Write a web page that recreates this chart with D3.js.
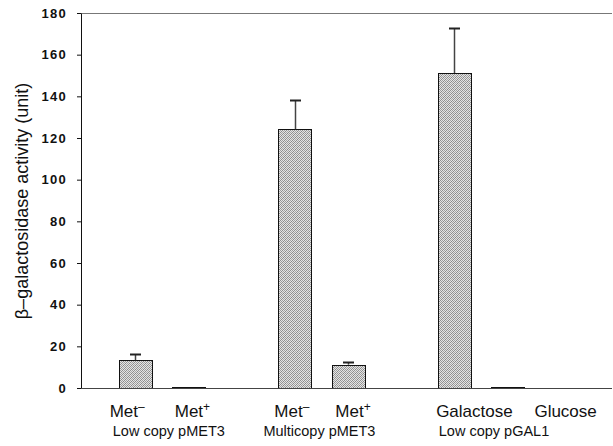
<!DOCTYPE html>
<html>
<head>
<meta charset="utf-8">
<script src="https://cdnjs.cloudflare.com/ajax/libs/d3/7.8.5/d3.min.js"></script>
<style>
  body { margin: 0; background: #fff; }
  text { font-family: "Liberation Sans", Arial, sans-serif; fill: #111; }
</style>
</head>
<body>
<div id="chart"></div>
<script>
// data
var slots = ["e0", "b0", "b1", "e1", "b2", "b3", "e2", "b4", "b5", "e3", "e4"];
var barSlots = ["b0", "b1", "b2", "b3", "b4", "b5"];
var conditions = ["Met", "Met", "Met", "Met", "Galactose", "Glucose"];
var conditionSup = ["-", "+", "-", "+", "", ""];
var means = [13.3, 0.6, 124.2, 11.2, 151.2, 0.3];
var errors = [3.2, 0, 14.0, 1.5, 21.4, 0];
var groups = ["Low copy pMET3", "Multicopy pMET3", "Low copy pGAL1"];
var groupBars = [[0, 1], [2, 3], [4, 5]];
var yTicks = [0, 20, 40, 60, 80, 100, 120, 140, 160, 180];

// label nudges (layout only)
var labelDx = [-8, 4, -3, 5, 20, 58];
var groupDx = [7, -2, 13];

var width = 613, height = 446;
var mLeft = 81, mRight = 612, mTop = 13, mBottom = 388;

var svg = d3.select("#chart").append("svg")
    .attr("width", width)
    .attr("height", height);

// dithered grey fill like the scanned bars
var defs = svg.append("defs");
var pat = defs.append("pattern")
    .attr("id", "stipple")
    .attr("width", 4)
    .attr("height", 4)
    .attr("patternUnits", "userSpaceOnUse");
pat.append("rect").attr("width", 4).attr("height", 4).attr("fill", "#e4e4e4");
[[0, 0, "#8e8e8e"], [2, 0, "#a4a4a4"], [1, 1, "#9a9a9a"], [3, 1, "#888"],
 [0, 2, "#a0a0a0"], [2, 2, "#909090"], [1, 3, "#8a8a8a"], [3, 3, "#a8a8a8"]]
    .forEach(function (p) {
        pat.append("rect").attr("x", p[0]).attr("y", p[1])
            .attr("width", 1).attr("height", 1).attr("fill", p[2]);
    });

var x = d3.scalePoint()
    .domain(slots)
    .range([82, 614]);

var y = d3.scaleLinear()
    .domain([0, 180])
    .range([mBottom, mTop]);

var barW = x.step() * 0.62;

// top frame line
svg.append("line")
    .attr("x1", mLeft).attr("x2", mRight)
    .attr("y1", mTop + 0.5).attr("y2", mTop + 0.5)
    .attr("stroke", "#777")
    .attr("stroke-width", 1);

// bars
var bars = svg.selectAll("g.bar")
    .data(means)
    .enter().append("g")
    .attr("class", "bar");

bars.append("rect")
    .attr("x", function (d, i) { return Math.round(x(barSlots[i]) - barW / 2) + 0.5; })
    .attr("y", function (d) { return Math.round(y(d)) + 0.5; })
    .attr("width", Math.round(barW))
    .attr("height", function (d) { return Math.max(0, Math.round(y(0)) - Math.round(y(d))); })
    .attr("fill", "url(#stipple)")
    .attr("stroke", "#111")
    .attr("stroke-width", 1);

// error bars
bars.each(function (d, i) {
    if (errors[i] <= 0) return;
    var g = d3.select(this);
    var cx = Math.round(x(barSlots[i])) + 0.5;
    var capY = Math.round(y(d + errors[i])) + 0.5;
    g.append("line")
        .attr("x1", cx).attr("x2", cx)
        .attr("y1", y(d)).attr("y2", capY)
        .attr("stroke", "#444").attr("stroke-width", 1.5);
    g.append("line")
        .attr("x1", cx - 5.5).attr("x2", cx + 5.5)
        .attr("y1", capY).attr("y2", capY)
        .attr("stroke", "#222").attr("stroke-width", 2);
});

// y axis
var yAxis = svg.append("g")
    .attr("transform", "translate(" + mLeft + ",0)")
    .call(d3.axisLeft(y).tickValues(yTicks).tickSize(4).tickPadding(10).tickSizeOuter(0));
yAxis.select(".domain").attr("stroke", "#111");
yAxis.selectAll(".tick line").attr("stroke", "#111");
yAxis.selectAll(".tick text")
    .style("font-family", "'Liberation Sans', Arial, sans-serif")
    .style("font-size", "13px")
    .style("font-weight", "bold")
    .style("letter-spacing", "1.3px")
    .attr("fill", "#111");

// x axis baseline
svg.append("line")
    .attr("x1", mLeft).attr("x2", mRight)
    .attr("y1", mBottom + 0.5).attr("y2", mBottom + 0.5)
    .attr("stroke", "#444")
    .attr("stroke-width", 1);

// condition labels
var labels = svg.selectAll("text.cond")
    .data(conditions)
    .enter().append("text")
    .attr("class", "cond")
    .attr("x", function (d, i) { return x(barSlots[i]) + labelDx[i]; })
    .attr("y", 417)
    .attr("text-anchor", "middle")
    .style("font-size", "17px");
labels.append("tspan").text(function (d) { return d; });
labels.append("tspan")
    .attr("dy", function (d, i) { return conditionSup[i] ? -6 : 0; })
    .style("font-size", "12px")
    .text(function (d, i) { return conditionSup[i] === "-" ? "\u2013" : conditionSup[i]; });

// group labels
svg.selectAll("text.group")
    .data(groups)
    .enter().append("text")
    .attr("class", "group")
    .attr("x", function (d, i) {
        var a = x(barSlots[groupBars[i][0]]), b = x(barSlots[groupBars[i][1]]);
        return (a + b) / 2 + groupDx[i];
    })
    .attr("y", 436)
    .attr("text-anchor", "middle")
    .style("font-size", "14.5px")
    .text(function (d) { return d; });

// y title
svg.append("text")
    .attr("transform", "translate(28,201) rotate(-90)")
    .attr("text-anchor", "middle")
    .style("font-size", "18px")
    .text("\u03b2\u2013galactosidase activity (unit)");
</script>
</body>
</html>
